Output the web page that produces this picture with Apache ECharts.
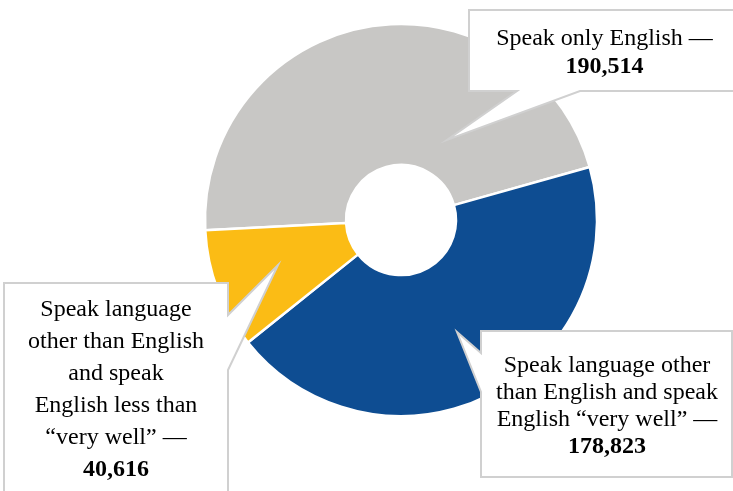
<!DOCTYPE html>
<html>
<head>
<meta charset="utf-8">
<script src="https://cdn.jsdelivr.net/npm/echarts@6/dist/echarts.min.js"></script>
<style>
html,body{margin:0;padding:0;background:#fff;overflow:hidden;}
#chart{width:733px;height:491px;}
</style>
</head>
<body>
<div id="chart"></div>
<script>
const categories = [
  'Speak only English',
  'Speak language other than English and speak English “very well”',
  'Speak language other than English and speak English less than “very well”'
];
const values = [190514, 178823, 40616];
const labelTexts = [
  ['Speak only English —'],
  ['Speak language other', 'than English and speak', 'English “very well” —'],
  ['Speak language', 'other than English', 'and speak', 'English less than', '“very well” —']
];
const colors = ['#C8C7C5', '#0E4D92', '#FBBC15'];

// callout layout (presentation only): text anchor and bubble outline
const textAnchors = [
  {x: 604.5, y: 25, lh: 28},
  {x: 607, y: 352, lh: 27},
  {x: 116, y: 294, lh: 32}
];
const bubbles = [
  [[469, 10], [900, 10], [900, 91], [580, 91], [447, 140], [517, 91], [469, 91]],
  [[481, 331], [732, 331], [732, 477], [481, 477], [481, 392], [457, 332], [481, 353]],
  [[4, 283], [228, 283], [228, 315], [278, 265], [228, 370], [228, 700], [4, 700]]
];

const FONT = "'Liberation Serif', 'Times New Roman', serif";
const BORDER = '#D0D0D0';

const chart = echarts.init(document.getElementById('chart'), null, {renderer: 'canvas'});

const sliceData = categories.map((name, i) => ({
  name: name, value: values[i], itemStyle: {color: colors[i]}
}));

const labelData = categories.map((name, i) => ({
  name: name,
  value: values[i],
  itemStyle: {color: 'rgba(0,0,0,0)', borderWidth: 0},
  label: {
    rich: {
      n: {fontFamily: FONT, fontSize: 24, lineHeight: textAnchors[i].lh, color: '#000', align: 'center'},
      b: {fontFamily: FONT, fontSize: 24, lineHeight: textAnchors[i].lh, color: '#000', fontWeight: 'bold', align: 'center'}
    }
  }
}));

const graphics = bubbles.map(pts => ({
  type: 'polygon', z: 5,
  shape: {points: pts},
  style: {fill: '#fff', stroke: BORDER, lineWidth: 2, lineJoin: 'miter'}
}));

const pieBase = {
  type: 'pie',
  center: [401, 220],
  radius: [55, 196],
  startAngle: 183,
  clockwise: true,
  avoidLabelOverlap: false,
  silent: true,
  emphasis: {disabled: true},
  labelLine: {show: false}
};

chart.setOption({
  animation: false,
  backgroundColor: '#fff',
  graphic: graphics,
  series: [
    Object.assign({}, pieBase, {
      z: 1,
      itemStyle: {borderColor: '#fff', borderWidth: 2.5},
      label: {show: false},
      data: sliceData
    }),
    Object.assign({}, pieBase, {
      z: 10,
      itemStyle: {borderWidth: 0},
      label: {
        show: true,
        position: 'inside',
        rotate: 0,
        align: 'center',
        formatter: function (p) {
          const lines = labelTexts[p.dataIndex].map(t => '{n|' + t + '}');
          lines.push('{b|' + p.value.toLocaleString('en-US') + '}');
          return lines.join('\n');
        }
      },
      labelLayout: function (p) {
        const a = textAnchors[p.dataIndex];
        return {x: a.x, y: a.y, align: 'center', verticalAlign: 'top'};
      },
      data: labelData
    })
  ]
});
</script>
</body>
</html>
